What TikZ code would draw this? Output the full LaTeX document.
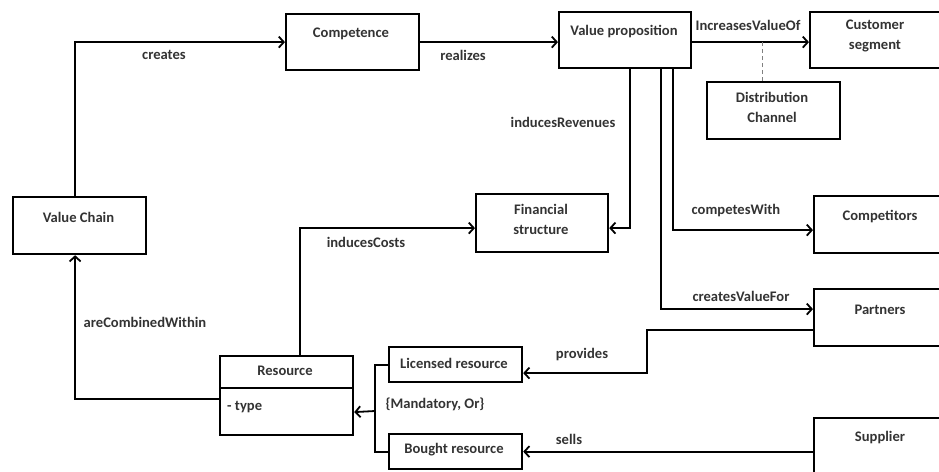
\documentclass[tikz,border=0pt]{standalone}
\usepackage{fontspec}
\setmainfont{Carlito}
\usetikzlibrary{arrows.meta}
\definecolor{ink}{gray}{0.2}
\begin{document}
\begin{tikzpicture}[x=1pt,y=-1pt,
  box/.style={draw=black,line width=2.2pt,anchor=north west,inner sep=0pt},
  lbl/.style={text=ink,font=\bfseries\fontsize{14.6}{20}\selectfont,inner sep=0pt,align=center},
  con/.style={draw=black,line width=1.8pt},
  arr/.style={con,-{Straight Barb[length=5pt,width=11pt,line width=1.8pt]}},
  dashline/.style={draw=gray,line width=1.2pt,dash pattern=on 4pt off 3pt}
]
\clip (0,0) rectangle (939,471);
\useasboundingbox (0,0) rectangle (939,471);

% boxes
\node[box,minimum width=133pt,minimum height=57pt] (vc)  at (12,196) {};
\node[box,minimum width=133pt,minimum height=56pt] (comp) at (285,13) {};
\node[box,minimum width=132pt,minimum height=56pt] (vp)  at (558,11) {};
\node[box,minimum width=133pt,minimum height=56pt] (cs)  at (809,11) {};
\node[box,minimum width=133pt,minimum height=57pt] (dc)  at (706,81) {};
\node[box,minimum width=132pt,minimum height=58pt] (fs)  at (475,193) {};
\node[box,minimum width=133pt,minimum height=57pt] (cmp) at (813,195) {};
\node[box,minimum width=133pt,minimum height=57pt] (par) at (813,288) {};
\node[box,minimum width=133pt,minimum height=79pt] (res) at (219,355) {};
\node[box,minimum width=133pt,minimum height=35pt] (lic) at (388,346) {};
\node[box,minimum width=133pt,minimum height=35pt] (bou) at (388,433) {};
\node[box,minimum width=133pt,minimum height=67pt] (sup) at (813,417) {};
\draw[line width=2.2pt] ([yshift=-33pt]res.north west) -- ([yshift=-33pt]res.north east);

% box texts
\node[lbl] (vct)  at (78.5,217) {Value Chain};
\node[lbl] (compt) at (351,34) {Competence};
\node[lbl] (vpt)  at (624,32) {Value proposition};
\node[lbl] (cst)  at (875,36) {Customer\\segment};
\node[lbl] (dct)  at (772,107) {Distribution\\Channel};
\node[lbl] (fst)  at (541,219.5) {Financial\\structure};
\node[lbl] (cmpt) at (880,217) {Competitors};
\node[lbl] (part) at (880,310) {Partners};
\node[lbl] (rest) at (285,371) {Resource};
\node[lbl,anchor=west] (resa) at (227,407) {- type};
\node[lbl] (lict) at (454,363) {Licensed resource};
\node[lbl] (bout) at (454,450) {Bought resource};
\node[lbl] (supt) at (880,438) {Supplier};

% connectors
\draw[arr] ([xshift=-4.5pt]vc.north) |- (comp.west);
\draw[arr] (comp.east) -- ([yshift=-2pt]vp.west);
\draw[arr] ([yshift=-2pt]vp.east) -- ([yshift=-2pt]cs.west);
\coordinate (dcs) at ([xshift=-11.5pt]dc.north);
\draw[dashline] (dcs) -- (dcs |- comp.west);
\draw[arr] ([xshift=5pt]vp.south) |- ([yshift=-5pt]fs.east);
\draw[arr] ([xshift=48pt]vp.south) |- ([yshift=-5.5pt]cmp.west);
\draw[arr] ([xshift=36pt]vp.south) |- ([yshift=8.5pt]par.west);
\coordinate (pvx) at (647,350);
\draw[arr] ([yshift=-12.5pt]par.west) -| (pvx) |- ([yshift=-8.5pt]lic.east);
\draw[arr] (sup.west) -- (bou.east);
\coordinate (bx) at (375,411);
\draw[con] (lic.west) -| (bx) |- (bou.west);
\draw[arr] (bx) -- ([yshift=-16.5pt]res.east);
\draw[arr] ([xshift=13.5pt]res.north) |- ([yshift=-5pt]fs.west);
\draw[arr] ([yshift=-3.5pt]res.west) -| ([xshift=-4.5pt]vc.south);

% connector labels
\node[lbl] (l1) at (164,55) {creates};
\node[lbl] (l2) at (463,55) {realizes};
\node[lbl] (l3) at (748,25) {IncreasesValueOf};
\node[lbl] (l4) at (563,122) {inducesRevenues};
\node[lbl] (l5) at (736,211) {competesWith};
\node[lbl] (l6) at (741,296) {createsValueFor};
\node[lbl] (l7) at (582,355) {provides};
\node[lbl] (l8) at (569,439) {sells};
\node[lbl] (l9) at (366,242) {inducesCosts};
\node[lbl] (l10) at (145,322) {areCombinedWithin};
\node[lbl] (l11) at (435,404) {\{Mandatory, Or\}};
\end{tikzpicture}
\end{document}
